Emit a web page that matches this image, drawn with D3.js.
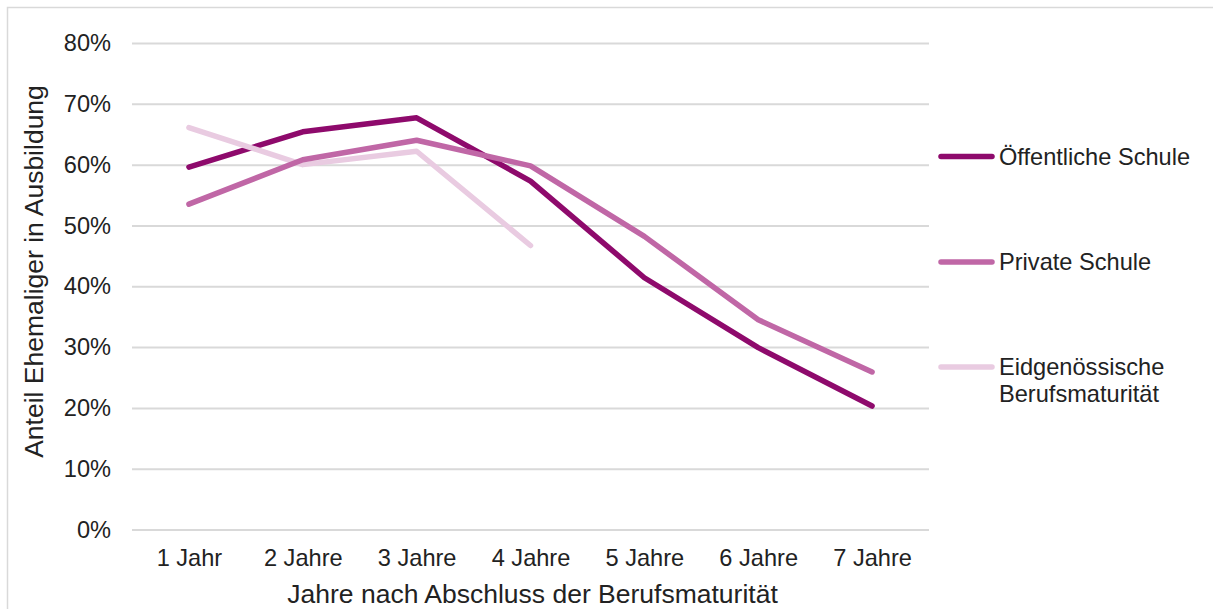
<!DOCTYPE html>
<html>
<head>
<meta charset="utf-8">
<script src="https://cdn.jsdelivr.net/npm/d3@7"></script>
<style>
  html, body { margin: 0; padding: 0; background: #fff; }
  svg { display: block; }
  text { font-family: "Liberation Sans", Arial, sans-serif; fill: #222; }
</style>
</head>
<body>
<svg id="chart" width="1213" height="609"></svg>
<script>
// Jahre nach Abschluss
const categories = ["1 Jahr", "2 Jahre", "3 Jahre", "4 Jahre", "5 Jahre", "6 Jahre", "7 Jahre"];

// Anteil Ehemaliger in Ausbildung (in %)
const oeffentlicheSchule = [59.6, 65.4, 67.7, 57.3, 41.4, 29.9, 20.3];
const privateSchule = [53.5, 60.8, 64.0, 59.8, 48.2, 34.5, 25.9];
const eidgBerufsmaturitaet = [66.1, 60.0, 62.2, 46.7, null, null, null];

const seriesNames = ["Öffentliche Schule", "Private Schule", "Eidgenössische Berufsmaturität"];
const yTicks = [0, 10, 20, 30, 40, 50, 60, 70, 80];

const colors = {
  "Öffentliche Schule": "#8e0a6c",
  "Private Schule": "#c067a6",
  "Eidgenössische Berufsmaturität": "#e9cbe1"
};

const series = [
  { name: seriesNames[0], values: oeffentlicheSchule },
  { name: seriesNames[1], values: privateSchule },
  { name: seriesNames[2], values: eidgBerufsmaturitaet }
];

const svg = d3.select("#chart");

// outer frame
svg.append("rect")
  .attr("x", 7.5).attr("y", 7.5)
  .attr("width", 1240).attr("height", 640)
  .attr("fill", "none")
  .attr("stroke", "#d9d9d9")
  .attr("stroke-width", 1.5);

const plotLeft = 132, plotRight = 929, plotTop = 43, plotBottom = 529.5;

const x = d3.scalePoint().domain(categories).range([plotLeft, plotRight]).padding(0.5);
const y = d3.scaleLinear().domain([0, 80]).range([plotBottom, plotTop]);

// y axis with gridlines
const yAxis = svg.append("g")
  .attr("transform", `translate(${plotLeft},0)`)
  .call(d3.axisLeft(y)
    .tickValues(yTicks)
    .tickSize(-(plotRight - plotLeft))
    .tickPadding(21)
    .tickFormat(d => d + "%"));
yAxis.select(".domain").remove();
yAxis.selectAll(".tick line").attr("stroke", "#d9d9d9").attr("stroke-width", 2);
yAxis.selectAll(".tick text")
  .style("font-family", '"Liberation Sans", Arial, sans-serif')
  .style("font-size", "23.6px")
  .attr("fill", "#222");

// x axis labels
const xAxis = svg.append("g")
  .attr("transform", `translate(0,${plotBottom})`)
  .call(d3.axisBottom(x).tickSize(0).tickPadding(20));
xAxis.select(".domain").remove();
xAxis.selectAll(".tick text")
  .style("font-family", '"Liberation Sans", Arial, sans-serif')
  .style("font-size", "23.6px")
  .attr("fill", "#222");

// axis titles
svg.append("text")
  .attr("x", (plotLeft + plotRight) / 2 + 2)
  .attr("y", 603)
  .attr("text-anchor", "middle")
  .style("font-size", "26.5px")
  .text("Jahre nach Abschluss der Berufsmaturität");

svg.append("text")
  .attr("transform", `translate(43,${271.5}) rotate(-90)`)
  .attr("text-anchor", "middle")
  .style("font-size", "26.5px")
  .text("Anteil Ehemaliger in Ausbildung");

// lines
const line = d3.line()
  .defined(d => d.v != null)
  .x(d => x(d.c))
  .y(d => y(d.v));

const drawOrder = [series[0], series[2], series[1]];
svg.append("g").selectAll("path")
  .data(drawOrder)
  .join("path")
  .attr("d", s => line(s.values.map((v, i) => ({ c: categories[i], v }))))
  .attr("fill", "none")
  .attr("stroke", s => colors[s.name])
  .attr("stroke-width", 5.5)
  .attr("stroke-linecap", "round")
  .attr("stroke-linejoin", "round");

// legend
const legendY = [156.5, 262, 367];
const legendLabels = [["Öffentliche Schule"], ["Private Schule"], ["Eidgenössische", "Berufsmaturität"]];
const legend = svg.append("g");
series.forEach((s, i) => {
  legend.append("line")
    .attr("x1", 941).attr("x2", 992)
    .attr("y1", legendY[i]).attr("y2", legendY[i])
    .attr("stroke", colors[s.name])
    .attr("stroke-width", 5.5)
    .attr("stroke-linecap", "round");
  const t = legend.append("text")
    .attr("x", 999)
    .attr("y", legendY[i])
    .style("font-size", "23.6px");
  legendLabels[i].forEach((l, j) => {
    t.append("tspan")
      .attr("x", 999)
      .attr("dy", j === 0 ? "0.35em" : "27px")
      .text(l);
  });
});
</script>
</body>
</html>
